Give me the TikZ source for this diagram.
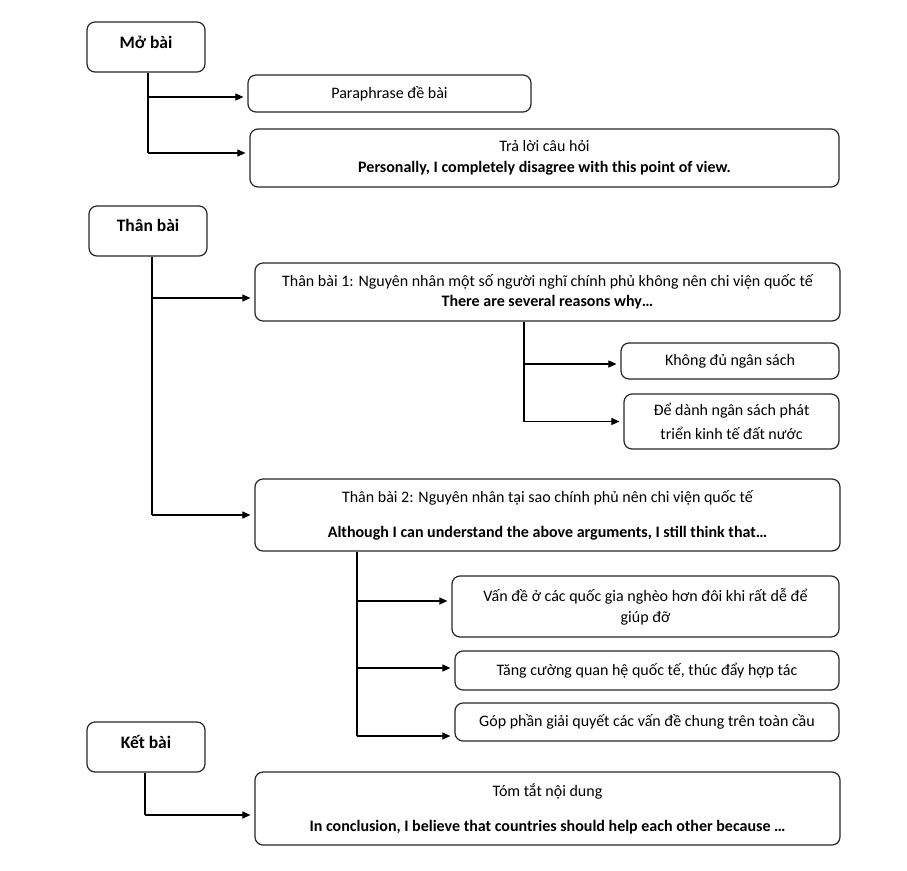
\documentclass[tikz,border=0pt]{standalone}
\usepackage{fontspec}
\setmainfont{Carlito}
\usetikzlibrary{arrows.meta}
\tikzset{
  box/.style={draw=black!85, line width=1.2pt, rounded corners=8pt, inner sep=0pt, align=center,
    font=\fontsize{16}{20}\selectfont},
  title/.style={font=\fontsize{17.5}{20}\selectfont\bfseries},
  conn/.style={draw=black, line width=1.1pt},
  arr/.style={conn, -{Triangle[length=8pt,width=7pt]}, shorten >=4pt},
}
\begin{document}
\begin{tikzpicture}[x=1pt,y=-1pt]
\useasboundingbox (0,0) rectangle (907,870);
% titles
\node[box, minimum width=118pt, minimum height=50pt] (mo) at (146,47) {};
\node[title] at ([yshift=-20.5pt]mo.north) {Mở bài};
\node[box, minimum width=118pt, minimum height=50pt] (than) at (148,231) {};
\node[title] at ([yshift=-20.5pt]than.north) {Thân bài};
\node[box, minimum width=118pt, minimum height=50pt] (ket) at (146,747) {};
\node[title] at ([yshift=-20.5pt]ket.north) {Kết bài};
% Mở bài children
\node[box, minimum width=283pt, minimum height=37pt] (para) at (389.5,93.5) {Paraphrase đề bài};
\node[box, minimum width=589pt, minimum height=58pt] (tra) at (544.5,158) {Trả lời câu hỏi\\[1pt]\textbf{Personally, I completely disagree with this point of view.}};
% Thân bài children
\node[box, minimum width=585pt, minimum height=58pt] (tb1) at (547.5,292) {Thân bài 1: Nguyên nhân một số người nghĩ chính phủ không nên chi viện quốc tế\\\textbf{There are several reasons why…}};
\node[box, minimum width=218pt, minimum height=36pt] (khong) at (730,361) {Không đủ ngân sách};
\node[box, minimum width=215pt, minimum height=55pt] (danh) at (731.5,421.5) {Để dành ngân sách phát\\[4pt]triển kinh tế đất nước};
\node[box, minimum width=585pt, minimum height=72pt] (tb2) at (547.5,515) {Thân bài 2: Nguyên nhân tại sao chính phủ nên chi viện quốc tế\\[15pt]\textbf{Although I can understand the above arguments, I still think that…}};
\node[box, minimum width=387pt, minimum height=61pt] (van) at (645.5,606.5) {Vấn đề ở các quốc gia nghèo hơn đôi khi rất dễ để\\[1pt]giúp đỡ};
\node[box, minimum width=384pt, minimum height=39pt] (tang) at (647,670.5) {Tăng cường quan hệ quốc tế, thúc đẩy hợp tác};
\node[box, minimum width=384pt, minimum height=38pt] (gop) at (647,722) {Góp phần giải quyết các vấn đề chung trên toàn cầu};
% Kết bài child
\node[box, minimum width=585pt, minimum height=73pt] (tom) at (547.5,808.5) {Tóm tắt nội dung\\[15pt]\textbf{In conclusion, I believe that countries should help each other because …}};
% connectors: Mở bài
\coordinate (m1) at ([xshift=2pt]mo.south);
\draw[conn] (m1) -- (m1 |- 0,153);
\draw[arr] (m1 |- 0,97) -- (para.west |- 0,97);
\draw[arr] (m1 |- 0,153) -- (tra.west |- 0,153);
% Thân bài
\coordinate (t0) at ([xshift=4pt]than.south);
\draw[conn] (t0) -- (t0 |- tb2.west);
\draw[arr] (t0 |- 0,298) -- (tb1.west |- 0,298);
\draw[arr] (t0 |- tb2.west) -- (tb2.west);
% TB1
\coordinate (t1) at ([xshift=-23.5pt]tb1.south);
\draw[conn] (t1) -- (t1 |- danh.west);
\draw[arr] (t1 |- 0,364) -- (khong.west |- 0,364);
\draw[arr] (t1 |- danh.west) -- (danh.west);
% TB2
\coordinate (t2) at ([xshift=-190.5pt]tb2.south);
\draw[conn] (t2) -- (t2 |- 0,736);
\draw[arr] (t2 |- 0,601) -- (van.west |- 0,601);
\draw[arr] (t2 |- 0,668) -- (tang.west |- 0,668);
\draw[arr] (t2 |- 0,736) -- (gop.west |- 0,736);
% Kết bài
\coordinate (k0) at ([xshift=-1pt]ket.south);
\draw[conn] (k0) -- (k0 |- 0,815);
\draw[arr] (k0 |- 0,815) -- (tom.west |- 0,815);
\end{tikzpicture}
\end{document}
